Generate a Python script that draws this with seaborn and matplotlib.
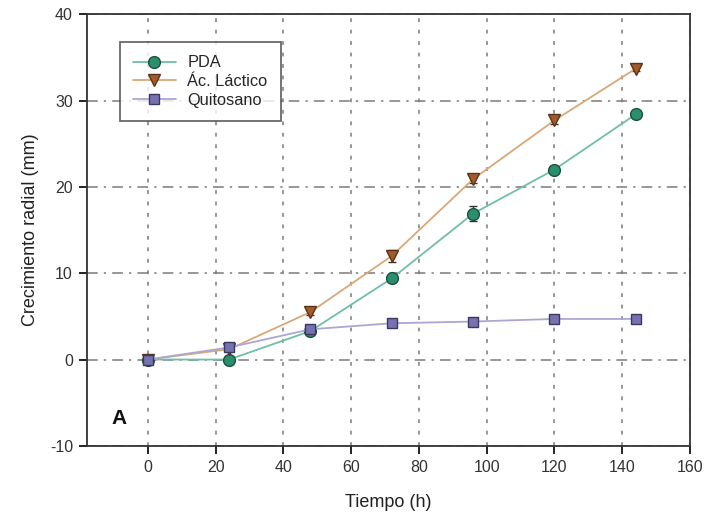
import matplotlib
matplotlib.use("Agg")
import matplotlib.pyplot as plt
import seaborn as sns
import pandas as pd

tiempo = [0, 24, 48, 72, 96, 120, 144]
pda = [0.0, 0.0, 3.3, 9.4, 16.9, 22.0, 28.4]
pda_err = [0.2, 0.2, 0.4, 0.4, 0.9, 0.4, 0.4]
lactico = [0.0, 1.2, 5.5, 12.0, 20.9, 27.7, 33.7]
lactico_err = [0.2, 0.2, 0.4, 0.7, 0.4, 0.4, 0.3]
quitosano = [0.0, 1.4, 3.5, 4.2, 4.4, 4.7, 4.7]
quitosano_err = [0.2, 0.3, 0.3, 0.3, 0.3, 0.4, 0.4]

series = [
    ("PDA", pda, pda_err, "o", 8.5, "#6fbfa8", "#2a8f6e", "#1d4f3e"),
    ("Ác. Láctico", lactico, lactico_err, "v", 9, "#d9a878", "#a45a2a", "#5a3418"),
    ("Quitosano", quitosano, quitosano_err, "s", 7.5, "#aaa7d3", "#7672b0", "#3a3763"),
]

sns.set_theme(style="ticks")
plt.rcParams["font.family"] = ["Liberation Sans", "DejaVu Sans"]
plt.rcParams["axes.unicode_minus"] = False

fig = plt.figure(figsize=(7.12, 5.27), dpi=100)
ax = fig.add_axes([0.122, 0.154, 0.847, 0.819])

for name, vals, err, mk, ms, lc, fc, ec in series:
    df = pd.DataFrame({"t": tiempo, "v": vals})
    ax.errorbar(tiempo, vals, yerr=err, fmt="none", ecolor="#333333",
                elinewidth=1, capsize=3, zorder=3)
    sns.lineplot(data=df, x="t", y="v", ax=ax, color=lc, linewidth=1.3,
                 marker=mk, markersize=ms, markerfacecolor=fc,
                 markeredgecolor=ec, markeredgewidth=1.0, label=name, zorder=4)

ax.set_xlim(-18, 160)
ax.set_ylim(-10, 40)
ax.set_xticks(range(0, 161, 20))
ax.set_yticks(range(-10, 41, 10))
ax.xaxis.grid(True, color="#7a7a7a", linewidth=1.1, linestyle=(0, (2.5, 5)))
ax.yaxis.grid(True, color="#7a7a7a", linewidth=1.1, linestyle=(0, (7, 4, 1.5, 4)))
ax.set_axisbelow(True)
for s in ax.spines.values():
    s.set_visible(True)
    s.set_color("#333333")
    s.set_linewidth(1.3)
ax.tick_params(axis="both", which="major", labelsize=11.5, labelcolor="#333333", pad=4)
for t in ax.xaxis.get_major_ticks() + ax.yaxis.get_major_ticks():
    for tl in (t.tick1line,):
        tl.set_visible(True)
        tl.set_markersize(6)
        tl.set_markeredgewidth(1.4)
        tl.set_color("#222222")
ax.xaxis.set_tick_params(direction="out", length=6, width=1.4, color="#222222")
ax.yaxis.set_tick_params(direction="out", length=6, width=1.4, color="#222222")
ax.set_xlabel("Tiempo (h)", fontsize=13, color="#222222", labelpad=14)
ax.set_ylabel("Crecimiento radial (mm)", fontsize=13, color="#222222", labelpad=8)

leg = ax.legend(loc="upper left", bbox_to_anchor=(0.055, 0.935), fontsize=11.8,
                frameon=True, fancybox=False, edgecolor="#444444",
                handlelength=2.6, borderpad=0.8, labelspacing=0.22,
                handletextpad=0.7, borderaxespad=0)
leg.get_frame().set_linewidth(1.3)

ax.text(-8.5, -6.8, "A", fontsize=15, fontweight="bold", color="#111111",
        ha="center", va="center")

fig.savefig("out.png", dpi=100)
